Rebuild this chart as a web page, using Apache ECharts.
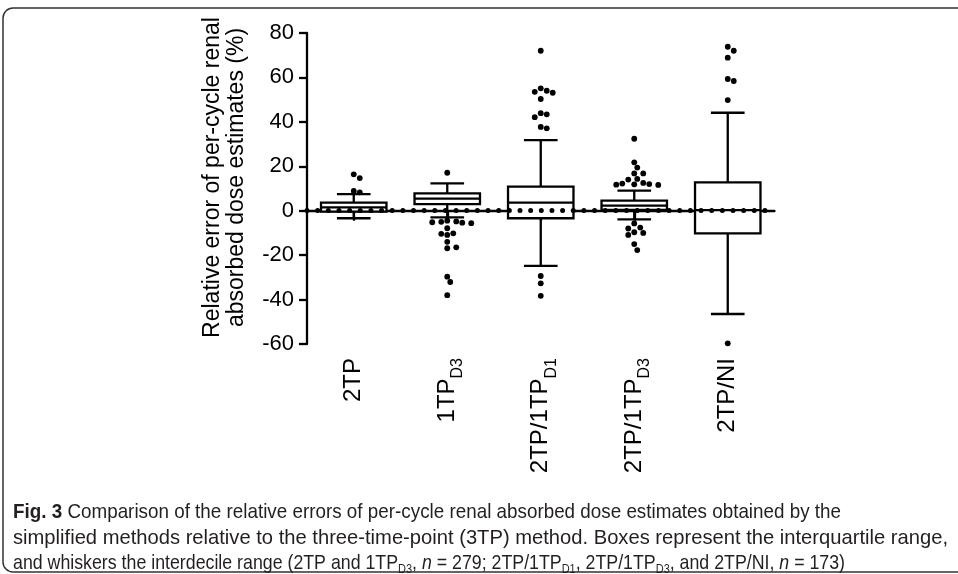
<!DOCTYPE html>
<html><head><meta charset="utf-8">
<script src="https://cdn.jsdelivr.net/npm/echarts@6/dist/echarts.min.js"></script>
<style>html,body{margin:0;padding:0;background:#fff}#c{width:958px;height:574px}</style>
</head><body><div id="c"></div>
<script>
// ---- data ----
const categories = ['2TP', '1TP_D3', '2TP/1TP_D1', '2TP/1TP_D3', '2TP/NI'];
const whiskerLow  = [-3.4, -3.0, -24.8, -3.9, -46.5];
const q1          = [-0.4,  3.0,  -3.4,  0.4, -10.2];
const median      = [ 1.5,  5.4,   3.6,  2.3,   0.3];
const q3          = [ 3.6,  7.8,  10.8,  4.5,  12.8];
const whiskerHigh = [ 7.5, 12.3,  31.8,  9.0,  44.1];
const outliers2TP = [16.4, 14.7, 8.9, 8.3];
const outliers1TPD3 = [17.1, -4.5, -4.8, -5.0, -5.2, -5.4, -5.6, -7.9, -10.2, -10.9, -10.4, -14.0, -16.9, -16.5, -29.7, -32.1, -38.0];
const outliers2TP1TPD1 = [72.0, 55.1, 54.0, 53.5, 53.1, 50.3, 43.9, 43.4, 42.1, 37.7, 37.1, -29.4, -32.7, -38.3];
const outliers2TP1TPD3 = [32.4, 21.8, 19.4, 16.8, 16.8, 14.3, 14.0, 12.5, 12.2, 12.0, 11.9, 11.7, 11.6, -5.7, -7.6, -8.0, -9.7, -10.0, -10.9, -15.0, -17.7];
const outliers2TPNI = [73.8, 72.0, 68.9, 59.3, 58.4, 49.8, -59.7];
const yTicks = [-60, -40, -20, 0, 20, 40, 60, 80];
const referenceValue = 0;
const captionLines = [
  '{b|Fig. 3} Comparison of the relative errors of per-cycle renal absorbed dose estimates obtained by the',
  'simplified methods relative to the three-time-point (3TP) method. Boxes represent the interquartile range,',
  'and whiskers the interdecile range (2TP and 1TP{s|D3}, {i|n} = 279; 2TP/1TP{s|D1}, 2TP/1TP{s|D3}, and 2TP/NI, {i|n} = 173)'
];

const outlierGroups = [outliers2TP, outliers1TPD3, outliers2TP1TPD1, outliers2TP1TPD3, outliers2TPNI];
const boxData = categories.map((c, i) => [i, whiskerLow[i], q1[i], median[i], q3[i], whiskerHigh[i]]);
const outlierData = [];
outlierGroups.forEach((g, ci) => g.forEach((v, k) => outlierData.push([ci, v, k])));

const FONT = '"Liberation Sans", Arial, sans-serif';
const CAPFONT = '"Liberation Sans", Arial, sans-serif';
const CAPSIZE = 21;
const LW = 2.3;
const DOT = 5.8;

const capRich = {
  b: {fontWeight: 'bold', fontFamily: CAPFONT, fontSize: CAPSIZE, lineHeight: 26},
  s: {fontFamily: CAPFONT, fontSize: 13, lineHeight: 13, verticalAlign: 'bottom'},
  i: {fontFamily: CAPFONT, fontSize: CAPSIZE, fontStyle: 'italic', lineHeight: 26}
};
const capY = [512, 538, 563];
const capRight = [841, 948, 845];
const capLeft = 13;

// the reference caption uses a condensed typeface: squeeze each line to its width in the picture
const mctx = document.createElement('canvas').getContext('2d');
function fontOf(st) {
  return (st.fontStyle || 'normal') + ' ' + (st.fontWeight || 'normal') + ' ' + st.fontSize + 'px ' + st.fontFamily;
}
function measureRich(t) {
  let w = 0, last = 0, m;
  const re = /\{(\w+)\|([^}]*)\}/g;
  const base = {fontSize: CAPSIZE, fontFamily: CAPFONT};
  while ((m = re.exec(t))) {
    mctx.font = fontOf(base); w += mctx.measureText(t.slice(last, m.index)).width;
    mctx.font = fontOf(capRich[m[1]]); w += mctx.measureText(m[2]).width;
    last = re.lastIndex;
  }
  mctx.font = fontOf(base); w += mctx.measureText(t.slice(last)).width;
  return w;
}

function richLabel(name) {
  const m = name.match(/^(.*)_(\w+)$/);
  return m ? m[1] + '{s|' + m[2] + '}' : name;
}

function swarm(ci, api) {
  const placed = [], offs = [];
  const step = 3, minD = DOT + 0.3;
  outlierGroups[ci].forEach(v => {
    const y = api.coord([ci, v])[1];
    let off = 0;
    for (let i = 0; i < 60; i++) {
      const cand = i === 0 ? 0 : (i % 2 ? 1 : -1) * Math.ceil(i / 2) * step;
      if (placed.every(p => Math.hypot(p[0] - cand, p[1] - y) >= minD)) { off = cand; break; }
    }
    placed.push([off, y]); offs.push(off);
  });
  return offs;
}

const chart = echarts.init(document.getElementById('c'), null, {renderer: 'canvas'});
chart.setOption({
  animation: false,
  backgroundColor: '#fff',
  grid: {left: 307, right: 183.5, top: 33, bottom: 230, containLabel: false},
  xAxis: {
    type: 'category',
    data: categories,
    axisLine: {lineStyle: {color: '#000', width: LW}},
    axisTick: {show: true, alignWithLabel: true, length: 10, lineStyle: {color: '#000', width: LW}},
    axisLabel: {
      rotate: 90, margin: 14, color: '#000', interval: 0,
      formatter: v => richLabel(v),
      fontFamily: FONT, fontSize: 24, lineHeight: 37,
      rich: {s: {fontFamily: FONT, fontSize: 16, lineHeight: 16, verticalAlign: 'bottom', color: '#000'}}
    },
    splitLine: {show: false}
  },
  yAxis: {
    type: 'value',
    min: yTicks[0], max: yTicks[yTicks.length - 1], interval: yTicks[1] - yTicks[0],
    axisLine: {show: true, lineStyle: {color: '#000', width: LW}},
    axisTick: {show: true, length: 8, lineStyle: {color: '#000', width: LW}},
    axisLabel: {color: '#000', fontFamily: FONT, fontSize: 22, margin: 13},
    splitLine: {show: false},
    name: 'Relative error of per-cycle renal\nabsorbed dose estimates (%)',
    nameLocation: 'middle', nameGap: 58,
    nameTextStyle: {color: '#000', fontFamily: FONT, fontSize: 23, lineHeight: 24, padding: [0, 0, 0, 22]}
  },
  series: [
    {
      type: 'custom', name: 'box', z: 2,
      data: boxData,
      encode: {x: 0, y: [1, 2, 3, 4, 5]},
      renderItem: function (params, api) {
        const ci = api.value(0);
        const pLo = api.coord([ci, api.value(1)]);
        const pQ1 = api.coord([ci, api.value(2)]);
        const pMed = api.coord([ci, api.value(3)]);
        const pQ3 = api.coord([ci, api.value(4)]);
        const pHi = api.coord([ci, api.value(5)]);
        const band = api.size([1, 0])[0];
        const hw = band * 0.35, cw = band * 0.18;
        const x = pLo[0];
        const st = {stroke: '#000', lineWidth: LW, fill: null};
        return {type: 'group', children: [
          {type: 'line', shape: {x1: x, y1: pLo[1], x2: x, y2: pQ1[1]}, style: st},
          {type: 'line', shape: {x1: x, y1: pQ3[1], x2: x, y2: pHi[1]}, style: st},
          {type: 'line', shape: {x1: x - cw, y1: pLo[1], x2: x + cw, y2: pLo[1]}, style: st},
          {type: 'line', shape: {x1: x - cw, y1: pHi[1], x2: x + cw, y2: pHi[1]}, style: st},
          {type: 'rect', shape: {x: x - hw, y: pQ3[1], width: 2 * hw, height: pQ1[1] - pQ3[1]},
            style: {stroke: '#000', lineWidth: LW, fill: '#fff'}},
          {type: 'line', shape: {x1: x - hw, y1: pMed[1], x2: x + hw, y2: pMed[1]}, style: st}
        ]};
      }
    },
    {
      type: 'line', name: 'ref', data: [], z: 4, silent: true,
      markLine: {
        silent: true, symbol: 'none', label: {show: false},
        lineStyle: {color: '#000', width: 5, type: [0, 10.65], cap: 'round'},
        data: [{yAxis: referenceValue}]
      }
    },
    {
      type: 'custom', name: 'outliers', z: 5,
      data: outlierData,
      encode: {x: 0, y: 1},
      renderItem: function (params, api) {
        const ci = api.value(0), k = api.value(2);
        const offs = swarm(ci, api);
        const p = api.coord([ci, api.value(1)]);
        return {type: 'circle', shape: {cx: p[0] + offs[k], cy: p[1], r: DOT / 2}, style: {fill: '#000'}};
      }
    }
  ],
  graphic: [
    {type: 'rect', z: 0, shape: {x: 3, y: 8, width: 990, height: 564, r: 10},
      style: {fill: null, stroke: '#333', lineWidth: 1.5}}
  ].concat(captionLines.map((t, i) => ({
    type: 'text', x: capLeft, y: capY[i], originX: 0, originY: 0,
    scaleX: (capRight[i] - capLeft) / measureRich(t),
    style: {text: t, font: CAPSIZE + 'px ' + CAPFONT, fill: '#231f20', verticalAlign: 'middle', lineHeight: 26, rich: capRich}
  })))
});
</script></body></html>
